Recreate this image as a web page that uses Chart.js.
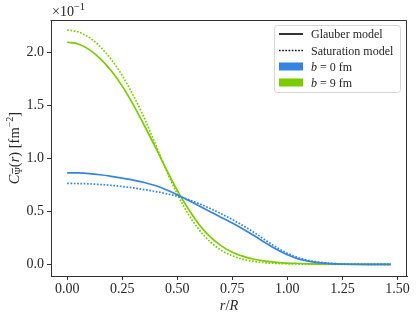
<!DOCTYPE html>
<html>
<head>
<meta charset="utf-8">
<script src="https://cdn.jsdelivr.net/npm/chart.js@4.4.1/dist/chart.umd.min.js"></script>
<style>
  html, body { margin: 0; padding: 0; background: #fff; }
</style>
</head>
<body>
<canvas id="chart" width="416" height="320"></canvas>
<script>
// r/R sample points
const rValues = [0, 0.05, 0.10, 0.15, 0.20, 0.25, 0.30, 0.35, 0.40, 0.45, 0.50, 0.55, 0.60, 0.65, 0.70,
    0.75, 0.80, 0.85, 0.90, 0.95, 1.00, 1.05, 1.10, 1.15, 1.20, 1.25, 1.30, 1.35, 1.40, 1.45, 1.47];

// values are in units of 10^-1 fm^-2
const glauberB0 = [0.865, 0.864, 0.858, 0.847, 0.832, 0.815, 0.797, 0.774, 0.745, 0.705, 0.658, 0.606, 0.552, 0.498, 0.444,
    0.390, 0.332, 0.270, 0.205, 0.142, 0.090, 0.052, 0.028, 0.014, 0.007, 0.003, 0.001, 0.0005, 0.0002, 0.0001, 0.0001];
const saturationB0 = [0.765, 0.764, 0.761, 0.755, 0.747, 0.736, 0.723, 0.707, 0.689, 0.668, 0.645, 0.613, 0.573, 0.528, 0.478,
    0.424, 0.365, 0.300, 0.230, 0.162, 0.105, 0.063, 0.036, 0.019, 0.009, 0.004, 0.002, 0.001, 0.0005, 0.0002, 0.0001];
const glauberB9 = [2.100, 2.083, 2.030, 1.945, 1.830, 1.685, 1.510, 1.315, 1.110, 0.900, 0.700, 0.525, 0.375, 0.260, 0.175,
    0.115, 0.075, 0.048, 0.030, 0.019, 0.012, 0.008, 0.005, 0.003, 0.002, 0.001, 0.0006, 0.0003, 0.0002, 0.0001, 0.0001];
const saturationB9 = [2.215, 2.198, 2.145, 2.058, 1.938, 1.785, 1.598, 1.385, 1.140, 0.890, 0.665, 0.475, 0.325, 0.212, 0.132,
    0.080, 0.047, 0.027, 0.016, 0.009, 0.005, 0.003, 0.002, 0.001, 0.0005, 0.0002, 0.0001, 0.0001, 0.0001, 0.0, 0.0];

const xTicks = [0, 0.25, 0.5, 0.75, 1.0, 1.25, 1.5];
const yTicks = [0, 0.5, 1.0, 1.5, 2.0];

const legendLabels = ['Glauber model', 'Saturation model', 'b = 0 fm', 'b = 9 fm'];

const blue = '#3584e4';
const green = '#7acc00';
const axisColor = '#333333';
const textColor = '#262626';
const serif = '"Liberation Serif", "DejaVu Serif", serif';

function pts(ys) {
    return rValues.map((r, i) => ({ x: r, y: ys[i] }));
}

function line(data, color, dotted) {
    return {
        data: pts(data),
        borderColor: color,
        borderWidth: 1.7,
        borderDash: dotted ? [1.7, 1.6] : [],
        pointRadius: 0,
        cubicInterpolationMode: 'monotone',
        fill: false
    };
}

// draw a run of text pieces (normal / italic / sub / sup), returns x positions
function drawPieces(ctx, pieces, x, y, align) {
    let total = 0;
    pieces.forEach(p => {
        ctx.font = (p.italic ? 'italic ' : '') + p.size + 'px ' + serif;
        p.w = ctx.measureText(p.t).width;
        total += p.w;
    });
    let cx = align === 'center' ? x - total / 2 : x;
    pieces.forEach(p => {
        ctx.font = (p.italic ? 'italic ' : '') + p.size + 'px ' + serif;
        ctx.fillText(p.t, cx, y + (p.dy || 0));
        p.x = cx;
        cx += p.w;
    });
    return pieces;
}

const decorations = {
    id: 'decorations',
    afterDraw(chart) {
        const ctx = chart.ctx;
        const a = chart.chartArea;
        ctx.save();

        // top and right spines
        ctx.strokeStyle = axisColor;
        ctx.lineWidth = 1;
        ctx.beginPath();
        ctx.moveTo(Math.round(a.left) - 0.5, Math.round(a.top) + 0.5);
        ctx.lineTo(Math.round(a.right) - 0.5, Math.round(a.top) + 0.5);
        ctx.lineTo(Math.round(a.right) - 0.5, Math.round(a.bottom) + 0.5);
        ctx.stroke();

        ctx.fillStyle = textColor;
        ctx.textBaseline = 'alphabetic';
        ctx.textAlign = 'left';

        // offset text
        drawPieces(ctx, [
            { t: '×10', size: 14 },
            { t: '−1', size: 10.5, dy: -6 }
        ], a.left + 1, 16, 'left');

        // x title
        drawPieces(ctx, [
            { t: 'r', size: 14.5, italic: true },
            { t: '/', size: 14.5 },
            { t: 'R', size: 14.5, italic: true }
        ], (a.left + a.right) / 2, 310, 'center');

        // y title
        ctx.save();
        ctx.translate(19, (a.top + a.bottom) / 2);
        ctx.rotate(-Math.PI / 2);
        const yt = drawPieces(ctx, [
            { t: 'C', size: 14.5, italic: true },
            { t: 'Ψ', size: 10, dy: 3 },
            { t: '(', size: 14.5 },
            { t: 'r', size: 14.5, italic: true },
            { t: ') [fm', size: 14.5 },
            { t: '−2', size: 10, dy: -6 },
            { t: ']', size: 14.5 }
        ], 0, 0, 'center');
        // macron over the subscript
        ctx.strokeStyle = textColor;
        ctx.lineWidth = 0.8;
        ctx.beginPath();
        ctx.moveTo(yt[1].x + 1, -6.5);
        ctx.lineTo(yt[1].x + yt[1].w - 1, -6.5);
        ctx.stroke();
        ctx.restore();

        // legend
        const lx = 274.5, ly = 25.5, lw = 126, lh = 67;
        ctx.beginPath();
        ctx.roundRect(lx, ly, lw, lh, 3);
        ctx.fillStyle = 'rgba(255,255,255,0.8)';
        ctx.fill();
        ctx.strokeStyle = '#d6d6d6';
        ctx.lineWidth = 1;
        ctx.stroke();

        const rows = [34, 50.5, 66.5, 82.5];
        // line samples
        ctx.strokeStyle = '#000';
        ctx.lineWidth = 1.6;
        [[], [1.6, 1.6]].forEach((dash, i) => {
            ctx.setLineDash(dash);
            ctx.beginPath();
            ctx.moveTo(279, rows[i]);
            ctx.lineTo(303, rows[i]);
            ctx.stroke();
        });
        ctx.setLineDash([]);
        // colour patches
        [blue, green].forEach((c, i) => {
            ctx.fillStyle = c;
            ctx.fillRect(279, rows[i + 2] - 4, 24, 8);
        });

        ctx.fillStyle = textColor;
        const ty = 4;
        drawPieces(ctx, [{ t: legendLabels[0], size: 12 }], 311, rows[0] + ty, 'left');
        drawPieces(ctx, [{ t: legendLabels[1], size: 12 }], 311, rows[1] + ty, 'left');
        [2, 3].forEach(i => {
            const parts = legendLabels[i].split(' = ');
            drawPieces(ctx, [
                { t: parts[0], size: 12, italic: true },
                { t: ' = ' + parts[1], size: 12 }
            ], 311, rows[i] + ty, 'left');
        });

        ctx.restore();
    }
};

new Chart(document.getElementById('chart'), {
    type: 'line',
    data: {
        datasets: [
            line(glauberB0, blue, false),
            line(saturationB0, blue, true),
            line(glauberB9, green, false),
            line(saturationB9, green, true)
        ]
    },
    options: {
        responsive: false,
        animation: false,
        layout: { padding: { top: 20, right: 9, left: 0, bottom: 0 } },
        plugins: { legend: { display: false }, tooltip: { enabled: false } },
        scales: {
            x: {
                type: 'linear',
                min: -0.0735,
                max: 1.5435,
                afterBuildTicks: s => { s.ticks = xTicks.map(v => ({ value: v })); },
                afterFit: s => { s.height = 44; },
                grid: { drawOnChartArea: false, drawTicks: true, tickLength: 4, color: axisColor },
                border: { display: true, color: axisColor, width: 1 },
                ticks: {
                    color: textColor,
                    font: { family: serif, size: 14 },
                    padding: 1,
                    maxRotation: 0,
                    callback: v => v.toFixed(2)
                }
            },
            y: {
                type: 'linear',
                min: -0.11,
                max: 2.31,
                afterBuildTicks: s => { s.ticks = yTicks.map(v => ({ value: v })); },
                afterFit: s => { s.width = 51; },
                grid: { drawOnChartArea: false, drawTicks: true, tickLength: 4, color: axisColor },
                border: { display: true, color: axisColor, width: 1 },
                ticks: {
                    color: textColor,
                    font: { family: serif, size: 14 },
                    padding: 3,
                    callback: v => v.toFixed(1)
                }
            }
        }
    },
    plugins: [decorations]
});
</script>
</body>
</html>
